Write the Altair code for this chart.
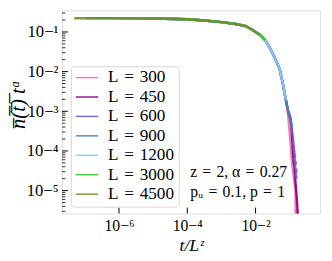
import altair as alt
import pandas as pd

# ---- data (log10 values) ----
SIZES = ["300", "450", "600", "900", "1200", "3000", "4500"]
COLORS = ["#ff69b4", "#800080", "#6a5acd", "#4682b4", "#87cefa", "#32cd32", "#6b8e23"]

L4500_X = [-7.31, -6.0, -5.0, -4.0, -3.5, -3.0, -2.58, -2.29, -2.15, -2.0, -1.88]
L4500_Y = [-0.655, -0.655, -0.66, -0.68, -0.71, -0.75, -0.80, -0.85, -0.92, -1.0, -1.07]

L3000_X = [-6.95, -6.0, -5.0, -4.0, -3.5, -3.0, -2.58, -2.29, -2.15, -2.0, -1.86, -1.72]
L3000_Y = [-0.655, -0.655, -0.66, -0.68, -0.71, -0.75, -0.80, -0.85, -0.92, -1.0, -1.08, -1.205]

L1200_X = [-6.16, -5.0, -4.0, -3.5, -3.0, -2.58, -2.29, -2.15, -2.0, -1.86, -1.72, -1.575, -1.43, -1.29, -1.215, -1.144, -1.10]
L1200_Y = [-0.655, -0.66, -0.68, -0.71, -0.75, -0.80, -0.85, -0.92, -1.0, -1.08, -1.205, -1.41, -1.66, -1.95, -2.24, -2.57, -2.72]

L900_X = [-5.91, -5.0, -4.0, -3.5, -3.0, -2.58, -2.29, -2.15, -2.0, -1.86, -1.72, -1.575, -1.43, -1.29, -1.215, -1.144, -1.05, -0.97, -0.93]
L900_Y = [-0.655, -0.66, -0.68, -0.71, -0.75, -0.80, -0.85, -0.92, -1.0, -1.08, -1.205, -1.41, -1.66, -1.95, -2.24, -2.57, -2.98, -3.25, -3.45]

L600_X = [-5.56, -5.0, -4.0, -3.5, -3.0, -2.58, -2.29, -2.15, -2.0, -1.86, -1.72, -1.575, -1.43, -1.29, -1.215, -1.144, -1.05,
          -0.99, -0.95, -0.93, -0.90, -0.88, -0.86, -0.84, -0.86, -0.82, -0.85, -0.80, -0.83, -0.79]
L600_Y = [-0.655, -0.66, -0.68, -0.71, -0.75, -0.80, -0.85, -0.92, -1.0, -1.08, -1.205, -1.41, -1.66, -1.95, -2.24, -2.57, -2.98,
          -3.1, -3.3, -3.5, -3.7, -3.9, -4.05, -4.15, -4.2, -4.3, -4.4, -4.5, -4.6, -4.7]

L450_X = [-5.31, -5.0, -4.0, -3.5, -3.0, -2.58, -2.29, -2.15, -2.0, -1.86, -1.72, -1.575, -1.43, -1.29, -1.215, -1.144, -1.05,
          -0.98, -0.95, -0.92, -0.89, -0.856, -0.83, -0.80, -0.78, -0.765, -0.76]
L450_Y = [-0.655, -0.66, -0.68, -0.71, -0.75, -0.80, -0.85, -0.92, -1.0, -1.08, -1.205, -1.41, -1.66, -1.95, -2.24, -2.57, -2.98,
          -3.2, -3.39, -3.8, -4.2, -4.47, -4.8, -5.1, -5.35, -5.6, -6.5]

L300_X = [-4.95, -4.0, -3.5, -3.0, -2.58, -2.29, -2.15, -2.0, -1.86, -1.72, -1.575, -1.43, -1.29, -1.215, -1.144, -1.06,
          -1.02, -0.98, -0.95, -0.92, -0.87, -0.83, -0.828, -0.765, -0.76]
L300_Y = [-0.66, -0.68, -0.71, -0.75, -0.80, -0.85, -0.92, -1.0, -1.08, -1.205, -1.41, -1.66, -1.95, -2.24, -2.57, -3.0,
          -3.35, -3.75, -4.14, -4.4, -4.75, -5.0, -6.5, -5.5, -6.5]

SERIES = {
    "300": (L300_X, L300_Y), "450": (L450_X, L450_Y), "600": (L600_X, L600_Y),
    "900": (L900_X, L900_Y), "1200": (L1200_X, L1200_Y), "3000": (L3000_X, L3000_Y),
    "4500": (L4500_X, L4500_Y),
}

X_TICKS = [1e-6, 1e-4, 1e-2]
Y_TICKS = [1e-5, 1e-4, 1e-3, 1e-2, 1e-1]
X_DOMAIN = [10 ** -7.67, 10 ** -0.11]
Y_DOMAIN = [10 ** -5.577, 10 ** -0.455]

rows = []
for order, name in enumerate(SIZES):
    xs, ys = SERIES[name]
    for i, (lx, ly) in enumerate(zip(xs, ys)):
        rows.append({"L": name, "x": 10 ** lx, "y": 10 ** ly, "i": i, "o": order})
df = pd.DataFrame(rows)

minor = []
for k in range(-6, 0):
    for m in range(2, 10):
        v = m * 10 ** k
        if Y_DOMAIN[0] < v < Y_DOMAIN[1]:
            minor.append(v)

W, H = 263, 207
FONT = "Liberation Serif"
SP = "\u2004"

xscale = alt.Scale(type="log", domain=X_DOMAIN, nice=False)
yscale = alt.Scale(type="log", domain=Y_DOMAIN, nice=False)

sup = "replace(replace(replace(replace(replace(replace(replace(format(log(datum.value)/log(10),'d'),'-','⁻'),'1','¹'),'2','²'),'3','³'),'4','⁴'),'5','⁵'),'6','⁶')"
label_expr = "'10' + " + sup

lines = alt.Chart(df).mark_line(strokeWidth=2.4, clip=True, opacity=0.9).encode(
    x=alt.X("x:Q", scale=xscale, axis=alt.Axis(values=X_TICKS, labelExpr=label_expr, ticks=False, domain=False,
                                                grid=False, title=None, labelFont=FONT, labelFontSize=16,
                                                labelPadding=4, labelColor="black")),
    y=alt.Y("y:Q", scale=yscale, axis=alt.Axis(values=Y_TICKS, labelExpr=label_expr, ticks=False, domain=False,
                                                grid=False, title=None, labelFont=FONT, labelFontSize=17,
                                                labelPadding=4, labelColor="black")),
    color=alt.Color("L:N", scale=alt.Scale(domain=SIZES, range=COLORS), sort=SIZES,
                    legend=alt.Legend(orient="none", legendX=9, legendY=57, title=None,
                                      labelExpr="'L" + SP + "=" + SP + "' + datum.label",
                                      symbolType="stroke", symbolSize=520, symbolStrokeWidth=1.5,
                                      labelFont=FONT, labelFontSize=17.5, labelOffset=9,
                                      clipHeight=15, rowPadding=1.8, padding=4,
                                      fillColor="rgba(255,255,255,0.85)", strokeColor="#d5d5d5",
                                      cornerRadius=3)),
    detail="L:N",
    order="i:Q",
)

ymaj = alt.Chart(pd.DataFrame({"v": Y_TICKS})).mark_rule(color="black", strokeWidth=1).encode(
    y=alt.Y("v:Q", scale=yscale), x=alt.value(0), x2=alt.value(6))
ymin = alt.Chart(pd.DataFrame({"v": minor})).mark_rule(color="black", strokeWidth=0.8).encode(
    y=alt.Y("v:Q", scale=yscale), x=alt.value(0), x2=alt.value(3.5))
xmaj = alt.Chart(pd.DataFrame({"v": X_TICKS})).mark_rule(color="black", strokeWidth=1).encode(
    x=alt.X("v:Q", scale=xscale), y=alt.value(H), y2=alt.value(H - 6))

ann1 = alt.Chart(pd.DataFrame({"t": ["z" + SP + "=" + SP + "2, α" + SP + "=" + SP + "0.27"]})).mark_text(
    font=FONT, fontSize=16, align="center", baseline="middle", color="black").encode(
    text="t:N", x=alt.value(243 - 63), y=alt.value(173 - 8))
ann2 = alt.Chart(pd.DataFrame({"t": ["pᵤ" + SP + "=" + SP + "0.1, p" + SP + "=" + SP + "1"]})).mark_text(
    font=FONT, fontSize=16, align="center", baseline="middle", color="black").encode(
    text="t:N", x=alt.value(242 - 63), y=alt.value(193 - 8))
xlab = alt.Chart(pd.DataFrame({"t": ["t/Lᶻ"]})).mark_text(
    font=FONT, fontSize=18, fontStyle="italic", align="center", baseline="middle", color="black").encode(
    text="t:N", x=alt.value(195 - 63), y=alt.value(248 - 8))
ylab = alt.Chart(pd.DataFrame({"t": ["n\u0305(\u0305t\u0305)\u0305 t\u1d45"]})).mark_text(
    font=FONT, fontSize=21, fontStyle="italic", angle=270, align="center", baseline="middle", color="black").encode(
    text="t:N", x=alt.value(19 - 63), y=alt.value(104 - 8))

chart = alt.layer(lines, ymaj, ymin, xmaj, ann1, ann2, xlab, ylab).properties(
    width=W, height=H,
    autosize=alt.AutoSizeParams(type="none"),
    padding={"left": 55, "top": 0, "right": 4, "bottom": 45},
).configure_view(stroke="#222", strokeWidth=1).configure(background="white")

chart.save("out.html", embed_options={"renderer": "svg", "actions": False})
